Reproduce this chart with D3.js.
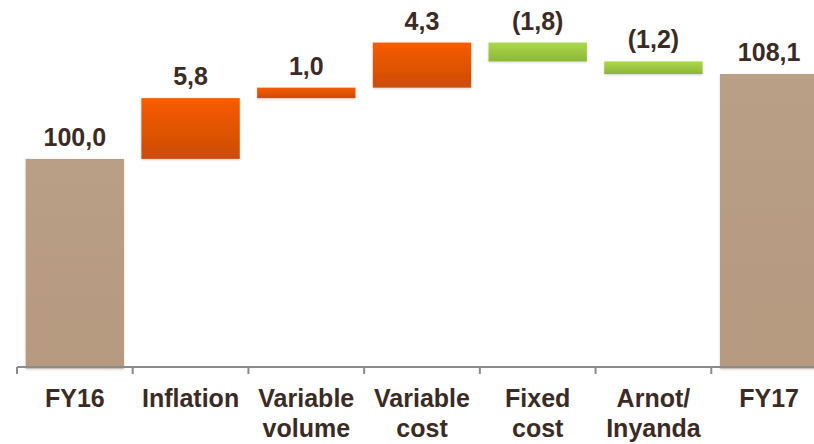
<!DOCTYPE html>
<html>
<head>
<meta charset="utf-8">
<script src="https://cdn.jsdelivr.net/npm/d3@7"></script>
<style>
  html, body { margin: 0; padding: 0; background: #fff; }
  svg { display: block; }
  text { font-family: "Liberation Sans", Arial, sans-serif; font-weight: bold; fill: #3b2b25; }
</style>
</head>
<body>
<svg id="chart" width="814" height="444"></svg>
<script>
// ---- data ----
const categories = ["FY16", "Inflation", "Variable volume", "Variable cost", "Fixed cost", "Arnot/ Inyanda", "FY17"];
const categoryLines = [["FY16"], ["Inflation"], ["Variable", "volume"], ["Variable", "cost"], ["Fixed", "cost"], ["Arnot/", "Inyanda"], ["FY17"]];
const values = [100.0, 5.8, 1.0, 4.3, -1.8, -1.2, 108.1];
const kinds = ["total", "delta", "delta", "delta", "delta", "delta", "total"];
const valueLabels = ["100,0", "5,8", "1,0", "4,3", "(1,8)", "(1,2)", "108,1"];
const yDomain = [80, 115];

// ---- build waterfall segments ----
let running = 0;
const segs = categories.map((c, i) => {
  let y0, y1;
  if (kinds[i] === "total") { y0 = yDomain[0]; y1 = values[i]; running = values[i]; }
  else { y0 = running; y1 = running + values[i]; running = y1; }
  return { cat: c, lines: categoryLines[i], kind: kinds[i], v: values[i], y0, y1, label: valueLabels[i] };
});

const svg = d3.select("#chart");
const W = 814, H = 444;
const axisY = 367;

const xOuter = d3.scaleBand().domain(categories).range([17, 827]).padding(0);
const x = d3.scaleBand().domain(categories).range([17, 827]).paddingInner(0.15).paddingOuter(0.075);
const y = d3.scaleLinear().domain(yDomain).range([368.5, 1.7]);

// gradients
const defs = svg.append("defs");
function grad(id, top, bottom) {
  const g = defs.append("linearGradient").attr("id", id).attr("x1", 0).attr("y1", 0).attr("x2", 0).attr("y2", 1);
  g.append("stop").attr("offset", "0%").attr("stop-color", top);
  g.append("stop").attr("offset", "100%").attr("stop-color", bottom);
}
grad("gOrange", "#f75c00", "#cc4c08");
grad("gGreen", "#aad94a", "#8db639");
grad("gTan", "#b99f86", "#b59a80");
const f = defs.append("filter").attr("id", "shadow").attr("x", "-10%").attr("y", "-20%").attr("width", "120%").attr("height", "150%");
f.append("feDropShadow").attr("dx", 0).attr("dy", 1).attr("stdDeviation", 1.2).attr("flood-color", "#000").attr("flood-opacity", 0.18);

function fillFor(d) {
  if (d.kind === "total") return "url(#gTan)";
  return d.v >= 0 ? "url(#gOrange)" : "url(#gGreen)";
}

// bars
svg.append("g").selectAll("rect").data(segs).join("rect")
  .attr("x", d => x(d.cat))
  .attr("width", x.bandwidth())
  .attr("y", d => y(Math.max(d.y0, d.y1)))
  .attr("height", d => Math.abs(y(d.y0) - y(d.y1)))
  .attr("fill", fillFor)
  .attr("filter", "url(#shadow)");

// value labels
svg.append("g").selectAll("text").data(segs).join("text")
  .attr("x", d => x(d.cat) + x.bandwidth() / 2)
  .attr("y", d => y(Math.max(d.y0, d.y1)) - 13)
  .attr("text-anchor", "middle")
  .style("font-size", "25px")
  .text(d => d.label);

// axis
const axis = d3.axisBottom(xOuter).tickSize(0).tickFormat("");
const ag = svg.append("g").attr("transform", `translate(0,${axisY})`).call(axis);
ag.select(".domain").attr("stroke", "#8c8c8c").attr("stroke-width", 2).attr("d", `M17,0H${W}`);
// tick marks at band boundaries
ag.selectAll(".bound").data(categories).join("line")
  .attr("class", "bound")
  .attr("x1", d => xOuter(d)).attr("x2", d => xOuter(d))
  .attr("y1", 0).attr("y2", 7)
  .attr("stroke", "#8c8c8c").attr("stroke-width", 2);

// category labels
const lab = svg.append("g").selectAll("text").data(segs).join("text")
  .attr("text-anchor", "middle")
  .style("font-size", "25px")
  .attr("x", d => xOuter(d.cat) + xOuter.bandwidth() / 2)
  .attr("y", 407);
lab.selectAll("tspan").data(d => d.lines.map(l => ({ l, cx: xOuter(d.cat) + xOuter.bandwidth() / 2 }))).join("tspan")
  .attr("x", t => t.cx)
  .attr("dy", (t, i) => i === 0 ? 0 : 30)
  .text(t => t.l);
</script>
</body>
</html>
